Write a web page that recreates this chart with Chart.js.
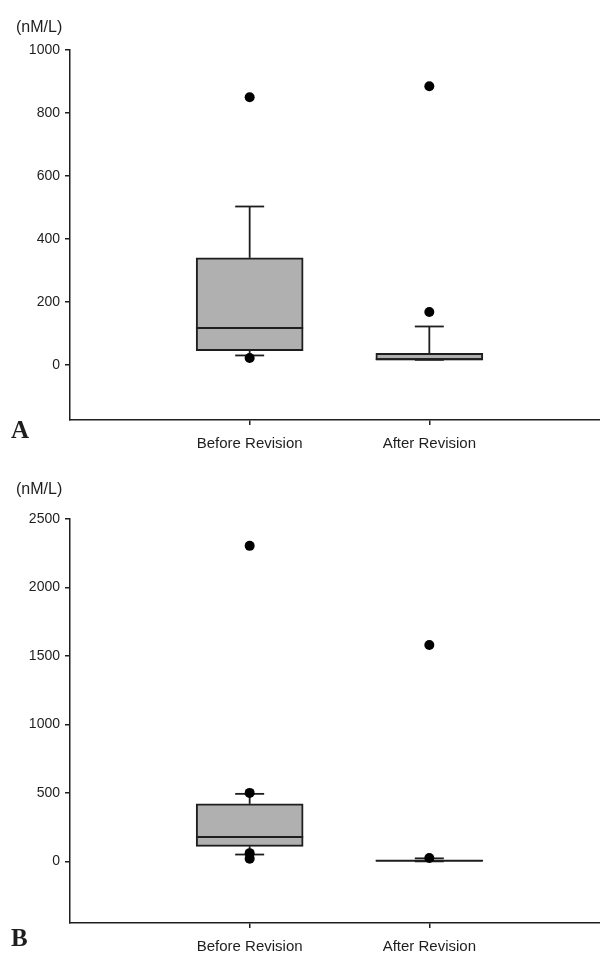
<!DOCTYPE html>
<html>
<head>
<meta charset="utf-8">
<script src="https://cdn.jsdelivr.net/npm/chart.js@4.4.1/dist/chart.umd.min.js"></script>
<style>
  body { margin: 0; background: #fff; }
  .panel { position: relative; width: 600px; }
  #panelA { height: 465px; }
  #panelB { height: 488px; }
</style>
</head>
<body>
<div class="panel" id="panelA"><canvas id="chartA"></canvas></div>
<div class="panel" id="panelB"><canvas id="chartB"></canvas></div>
<script>
const categories = ['Before Revision', 'After Revision'];
const catPos = [1, 2];

// panel A
const aLow = [30, 16];
const aQ1 = [45, 16];
const aMedian = [117, 18];
const aQ3 = [340, 37];
const aHigh = [503, 122];
const aOutliers = [[850, 22], [885, 168]];
const aTicks = [0, 200, 400, 600, 800, 1000];
const aRange = [-175, 1000];

// panel B
const bLow = [50, 0];
const bQ1 = [110, 3];
const bMedian = [178, 5];
const bQ3 = [420, 8];
const bHigh = [493, 22];
const bOutliers = [[2304, 500, 60, 20], [1580, 25]];
const bTicks = [0, 500, 1000, 1500, 2000, 2500];
const bRange = [-450, 2500];

const INK = '#1e1e1e';
const FONT = '"Liberation Sans", Arial, sans-serif';

// unit label and panel letter
const panelText = {
  id: 'panelText',
  afterDraw(chart, args, opts) {
    const ctx = chart.ctx;
    ctx.save();
    ctx.fillStyle = INK;
    ctx.textBaseline = 'middle';
    ctx.font = '16px ' + FONT;
    ctx.fillText(opts.unit, 16, opts.unitY);
    ctx.textBaseline = 'alphabetic';
    ctx.font = 'bold 25px "Liberation Serif", "Times New Roman", serif';
    ctx.fillText(opts.letter, 11, opts.letterY);
    ctx.restore();
  }
};

function boxChart(id, s) {
  const datasets = [];
  datasets.push({
    type: 'bar',
    data: catPos.map((x, i) => ({ x: x, y: [s.q1[i], s.q3[i]] })),
    backgroundColor: '#b0b0b0',
    borderColor: INK,
    borderWidth: 2,
    borderSkipped: false,
    barThickness: 107,
    order: 3
  });
  catPos.forEach((x, i) => {
    [[s.q3[i], s.high[i]], [s.q1[i], s.low[i]]].forEach(seg => {
      datasets.push({
        type: 'line',
        data: [{ x: x, y: seg[0] }, { x: x, y: seg[1] }],
        borderColor: INK,
        borderWidth: 1.8,
        pointRadius: 0,
        order: 2
      });
    });
  });
  // whisker caps
  datasets.push({
    type: 'scatter',
    data: catPos.flatMap((x, i) => [{ x: x, y: s.high[i] }, { x: x, y: s.low[i] }]),
    pointStyle: 'line',
    pointRadius: 14.5,
    pointBorderColor: INK,
    pointBorderWidth: 1.8,
    order: 1
  });
  // medians
  datasets.push({
    type: 'scatter',
    data: catPos.map((x, i) => ({ x: x, y: s.median[i] })),
    pointStyle: 'line',
    pointRadius: 53.5,
    pointBorderColor: INK,
    pointBorderWidth: 2,
    order: 1
  });
  // outliers
  datasets.push({
    type: 'scatter',
    data: catPos.flatMap((x, i) => s.outliers[i].map(v => ({ x: x, y: v }))),
    pointStyle: 'circle',
    pointRadius: 5,
    pointBackgroundColor: '#000',
    pointBorderWidth: 0,
    order: 0
  });

  const axisBorder = { display: true, color: INK, width: 1.5 };

  new Chart(document.getElementById(id), {
    type: 'scatter',
    data: { datasets: datasets },
    plugins: [panelText],
    options: {
      responsive: true,
      maintainAspectRatio: false,
      animation: false,
      events: [],
      layout: { autoPadding: false, padding: { top: s.top, left: 0, right: 0, bottom: 0 } },
      plugins: {
        legend: { display: false },
        tooltip: { enabled: false },
        panelText: { unit: '(nM/L)', unitY: s.unitY, letter: s.letter, letterY: s.letterY }
      },
      scales: {
        x: {
          type: 'linear',
          min: 0,
          max: 2.95,
          offset: false,
          afterBuildTicks: axis => { axis.ticks = catPos.map(v => ({ value: v })); },
          afterFit: scale => { scale.height = s.xHeight; scale.paddingRight = 0; scale.paddingLeft = 0; },
          ticks: {
            autoSkip: false,
            maxRotation: 0,
            padding: 10,
            color: INK,
            font: { family: FONT, size: 15 },
            callback: v => categories[catPos.indexOf(v)]
          },
          grid: { offset: false, drawOnChartArea: false, drawTicks: true, tickLength: 5, color: INK, lineWidth: 1.5 },
          border: axisBorder
        },
        y: {
          type: 'linear',
          min: s.range[0],
          max: s.range[1],
          afterBuildTicks: axis => { axis.ticks = s.ticks.map(v => ({ value: v })); },
          afterFit: scale => { scale.width = 70; },
          ticks: {
            padding: 5,
            color: INK,
            font: { family: FONT, size: 14 },
            callback: v => String(v)
          },
          grid: { drawOnChartArea: false, drawTicks: true, tickLength: 5, color: INK, lineWidth: 1.5 },
          border: axisBorder
        }
      }
    }
  });
}

boxChart('chartA', {
  low: aLow, q1: aQ1, median: aMedian, q3: aQ3, high: aHigh, outliers: aOutliers,
  ticks: aTicks, range: aRange, top: 50, xHeight: 45, letter: 'A', unitY: 28, letterY: 438
});
boxChart('chartB', {
  low: bLow, q1: bQ1, median: bMedian, q3: bQ3, high: bHigh, outliers: bOutliers,
  ticks: bTicks, range: bRange, top: 54, xHeight: 30, letter: 'B', unitY: 25, letterY: 481
});
</script>
</body>
</html>
